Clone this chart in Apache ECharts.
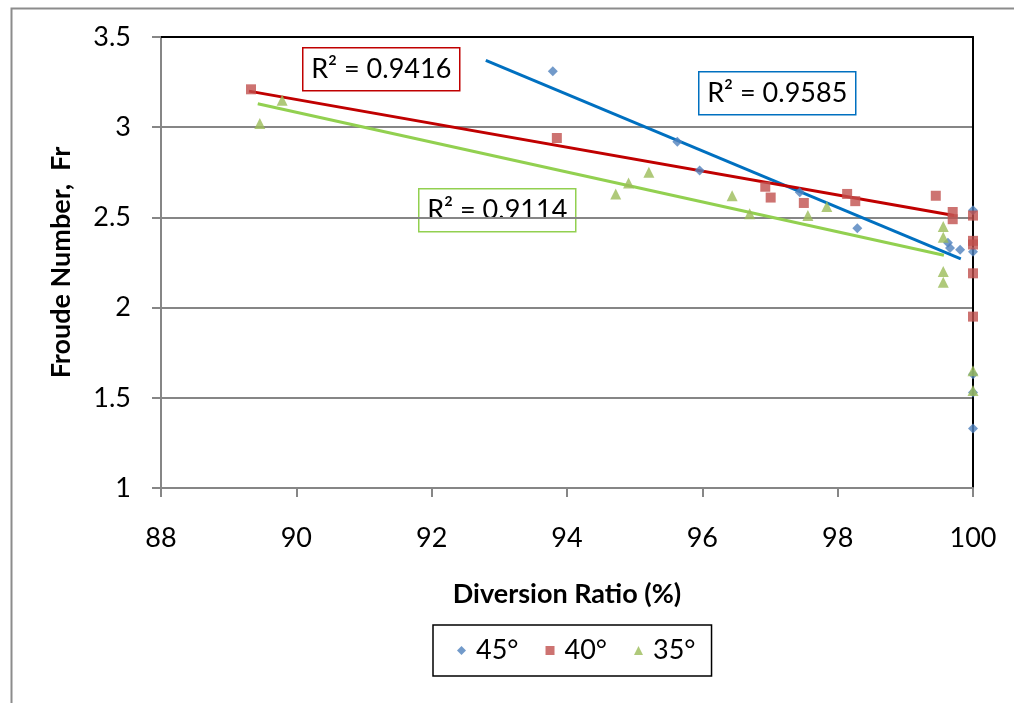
<!DOCTYPE html>
<html>
<head>
<meta charset="utf-8">
<script src="https://cdn.jsdelivr.net/npm/echarts@6/dist/echarts.min.js"></script>
<style>
html,body{margin:0;padding:0;background:#fff;}
#chart{width:1014px;height:703px;}
</style>
</head>
<body>
<div id="chart"></div>
<script>
// ---- data ----
const seriesNames = ['45°', '40°', '35°'];

const x45 = [93.79, 95.63, 95.96, 97.44, 98.29, 99.63, 99.66, 99.81, 100, 100, 100, 100, 100];
const y45 = [3.31, 2.92, 2.76, 2.64, 2.44, 2.36, 2.33, 2.32, 2.54, 2.31, 1.63, 1.53, 1.33];

const x40 = [89.33, 93.85, 96.93, 97.01, 97.50, 98.14, 98.26, 99.45, 99.70, 99.70, 100, 100, 100, 100, 100];
const y40 = [3.21, 2.94, 2.67, 2.61, 2.58, 2.63, 2.59, 2.62, 2.53, 2.49, 2.51, 2.37, 2.35, 2.19, 1.95];

const x35 = [89.46, 89.79, 94.72, 94.91, 95.21, 96.44, 96.70, 97.56, 97.84, 99.56, 99.56, 99.56, 99.56, 100, 100];
const y35 = [3.02, 3.15, 2.63, 2.69, 2.75, 2.62, 2.52, 2.51, 2.56, 2.45, 2.39, 2.20, 2.14, 1.65, 1.54];

// linear trend lines (end points)
const trend45 = [[92.80, 3.37], [99.82, 2.27]];
const trend40 = [[89.30, 3.20], [99.72, 2.51]];
const trend35 = [[89.43, 3.13], [99.57, 2.29]];

const r2Labels = ['R² = 0.9585', 'R² = 0.9416', 'R² = 0.9114'];

const xTicks = [88, 90, 92, 94, 96, 98, 100];
const yTicks = [1, 1.5, 2, 2.5, 3, 3.5];

// ---- chart ----
const zip = (xs, ys) => xs.map((v, i) => [v, ys[i]]);
const FONT = 'Lato';
const markerColors = ['#4F81BD', '#C0504D', '#9BBB59'];
const lineColors = ['#0070C0', '#C00000', '#92D050'];

const chart = echarts.init(document.getElementById('chart'), null, {renderer: 'canvas'});

function r2Box(text, color, left, top) {
  return {
    type: 'group', left: left, top: top, z: 100,
    children: [
      {type: 'rect', shape: {x: 0, y: 0, width: 157, height: 43},
       style: {fill: '#fff', stroke: color, lineWidth: 1.5}},
      {type: 'text', x: 78.5, y: 22,
       style: {text: text, fill: '#000', font: '27px ' + FONT, align: 'center', verticalAlign: 'middle'}}
    ]
  };
}

const option = {
  animation: false,
  backgroundColor: '#fff',
  textStyle: {fontFamily: FONT},
  grid: {left: 161, right: 41, top: 37, bottom: 215, containLabel: false},
  graphic: [
    {type: 'rect', left: 9, top: 6, z: -10, silent: true,
     shape: {width: 1020, height: 720}, style: {fill: 'none', stroke: '#8c8c8c', lineWidth: 2}},
    r2Box(r2Labels[1], lineColors[1], 302, 47),
    r2Box(r2Labels[0], lineColors[0], 698, 71),
    r2Box(r2Labels[2], lineColors[2], 418, 188)
  ],
  legend: {
    data: seriesNames,
    left: 433, top: 625,
    orient: 'horizontal',
    itemWidth: 9, itemHeight: 9, itemGap: 27,
    padding: [12, 16, 12, 24],
    borderColor: '#000', borderWidth: 1.5,
    textStyle: {fontFamily: FONT, fontSize: 27, color: '#000', padding: [0, 0, 0, 5]}
  },
  xAxis: [{
    type: 'value', min: 88, max: 100, interval: 2,
    name: 'Diversion Ratio (%)', nameLocation: 'middle', nameGap: 93,
    nameTextStyle: {fontFamily: FONT, fontSize: 27, fontWeight: 'bold', color: '#000'},
    axisLine: {show: true, onZero: false, lineStyle: {color: '#868686', width: 2}},
    axisTick: {show: true, length: 9, lineStyle: {color: '#868686', width: 2}},
    axisLabel: {fontFamily: FONT, fontSize: 27, color: '#000', margin: 37},
    splitLine: {show: false}
  }, {
    type: 'value', min: 88, max: 100, position: 'top',
    axisLine: {show: true, onZero: false, lineStyle: {color: '#000', width: 2}},
    axisTick: {show: false}, axisLabel: {show: false}, splitLine: {show: false}
  }],
  yAxis: [{
    type: 'value', min: 1, max: 3.5, interval: 0.5,
    name: 'Froude Number,  Fr', nameLocation: 'middle', nameGap: 86, nameRotate: 90,
    nameTextStyle: {fontFamily: FONT, fontSize: 27, fontWeight: 'bold', color: '#000'},
    axisLine: {show: true, onZero: false, lineStyle: {color: '#868686', width: 2}},
    axisTick: {show: true, length: 9, lineStyle: {color: '#868686', width: 2}},
    axisLabel: {fontFamily: FONT, fontSize: 27, color: '#000', margin: 30},
    splitLine: {show: true, lineStyle: {color: '#868686', width: 2}}
  }, {
    type: 'value', min: 1, max: 3.5, position: 'right',
    axisLine: {show: true, onZero: false, lineStyle: {color: '#000', width: 2}},
    axisTick: {show: false}, axisLabel: {show: false}, splitLine: {show: false}
  }],
  series: [
    {name: seriesNames[0], type: 'scatter', symbol: 'diamond', symbolSize: 10,
     itemStyle: {color: markerColors[0]}, data: zip(x45, y45), z: 5},
    {name: seriesNames[1], type: 'scatter', symbol: 'rect', symbolSize: 10,
     itemStyle: {color: markerColors[1]}, data: zip(x40, y40), z: 5},
    {name: seriesNames[2], type: 'scatter', symbol: 'triangle', symbolSize: 11,
     itemStyle: {color: markerColors[2]}, data: zip(x35, y35), z: 5},
    {name: 'trend45', type: 'line', data: trend45, showSymbol: false, symbol: 'none',
     lineStyle: {color: lineColors[0], width: 3}, z: 4},
    {name: 'trend40', type: 'line', data: trend40, showSymbol: false, symbol: 'none',
     lineStyle: {color: lineColors[1], width: 3}, z: 4},
    {name: 'trend35', type: 'line', data: trend35, showSymbol: false, symbol: 'none',
     lineStyle: {color: lineColors[2], width: 3}, z: 4}
  ]
};
chart.setOption(option);
</script>
</body>
</html>
